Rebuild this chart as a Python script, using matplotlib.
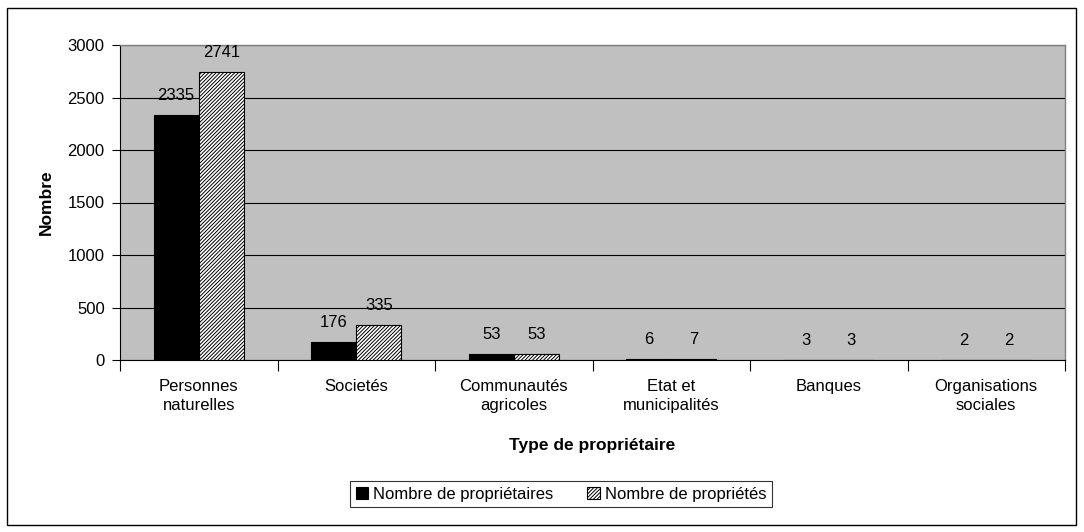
import matplotlib
matplotlib.use("Agg")
import matplotlib.pyplot as plt
import numpy as np
from matplotlib.patches import Rectangle

categories = ["Personnes\nnaturelles", "Societés", "Communautés\nagricoles",
              "Etat et\nmunicipalités", "Banques", "Organisations\nsociales"]
proprietaires = [2335, 176, 53, 6, 3, 2]
proprietes = [2741, 335, 53, 7, 3, 2]
series_names = ["Nombre de propriétaires", "Nombre de propriétés"]
yticks = [0, 500, 1000, 1500, 2000, 2500, 3000]

plt.rcParams['font.family'] = ['Liberation Sans', 'DejaVu Sans']
plt.rcParams['hatch.linewidth'] = 0.7

FS = 12
W, H = 1084, 532
fig = plt.figure(figsize=(W/100, H/100), dpi=100)
fig.patch.set_facecolor('white')
fig.patches.append(Rectangle((7/W, 1-525/H), (1076-7)/W, (525-8)/H, transform=fig.transFigure,
                             fill=False, edgecolor='black', linewidth=1.0))

ax = fig.add_axes([120/W, 1-360/H, (1065-120)/W, (360-45)/H])
ax.set_facecolor('#C0C0C0')

x = np.arange(len(categories))
bw = 0.287
b1 = ax.bar(x - bw/2, proprietaires, bw, color='black', edgecolor='black', linewidth=0.8, zorder=3)
b2 = ax.bar(x + bw/2, proprietes, bw, color='white', edgecolor='black', hatch='/////////',
            linewidth=0.8, zorder=3)

for bars, vals in ((b1, proprietaires), (b2, proprietes)):
    for r, v in zip(bars, vals):
        ax.annotate(str(v), (r.get_x() + r.get_width()/2, v), xytext=(0, 12),
                    textcoords='offset pixels', ha='center', va='bottom', fontsize=FS, zorder=4)

ax.set_ylim(0, 3000)
ax.set_xlim(-0.5, len(categories) - 0.5)
ax.set_yticks(yticks)
ax.set_yticklabels([str(t) for t in yticks], fontsize=FS)
ax.yaxis.grid(True, color='black', linewidth=0.8, zorder=1)
ax.set_axisbelow(True)

ax.set_xticks(x)
ax.set_xticklabels(categories, fontsize=FS, linespacing=1.3)
ax.tick_params(axis='x', length=0, pad=14)
ax.set_xticks(np.arange(len(categories) + 1) - 0.5, minor=True)
ax.tick_params(axis='x', which='minor', length=8, direction='out', width=0.8)
ax.tick_params(axis='y', length=6, direction='out', width=0.8, pad=5)

for s in ('top', 'right'):
    ax.spines[s].set_color('#808080')
    ax.spines[s].set_linewidth(1.0)
for s in ('left', 'bottom'):
    ax.spines[s].set_color('black')
    ax.spines[s].set_linewidth(0.8)

ax.set_ylabel("Nombre", fontsize=12.5, fontweight='bold', labelpad=10)
ax.set_xlabel("Type de propriétaire", fontsize=12.5, fontweight='bold', labelpad=18)

leg = fig.legend([b1, b2], series_names, loc='center', bbox_to_anchor=(561/W, 1-494/H),
                 ncol=2, frameon=True, fancybox=False, edgecolor='black', fontsize=FS,
                 handlelength=0.75, handleheight=0.75, handletextpad=0.3, columnspacing=2.0,
                 borderpad=0.35, borderaxespad=0)
leg.get_frame().set_linewidth(0.8)

fig.savefig("out.png", dpi=100)
